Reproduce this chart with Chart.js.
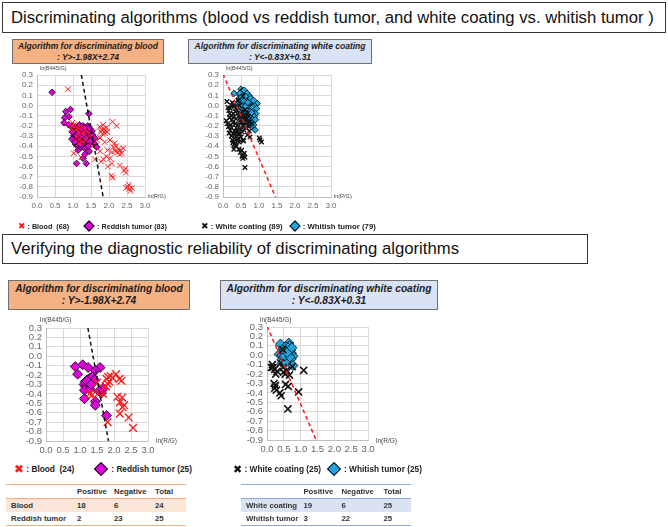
<!DOCTYPE html>
<html>
<head>
<meta charset="utf-8">
<script src="https://cdn.jsdelivr.net/npm/chart.js@4.4.1/dist/chart.umd.min.js"></script>
<style>
  body { margin: 0; width: 668px; height: 527px; position: relative; background: #fff; overflow: hidden;
         font-family: "Liberation Sans", Arial, sans-serif; color: #222; }
  .abs { position: absolute; white-space: nowrap; }
  .title { border: 1.5px solid #333; box-sizing: border-box; font-size: 16.7px; color: #111; padding-left: 8px; display: flex; align-items: center; }
  .algo { box-sizing: border-box; border: 1px solid #6f6f6f; font-weight: bold; font-style: italic; text-align: center; color: #1a1a1a; line-height: 1.2; display: flex; flex-direction: column; justify-content: center; }
  .orange { background: #f4b183; }
  .blue { background: #dae3f3; }
  .axt { color: #444; }
  .leg { font-weight: bold; color: #222; display: flex; align-items: center; }
  .xm { font-family: "DejaVu Sans", sans-serif; font-weight: bold; }
  .dia { display: inline-block; transform: rotate(45deg); border: 1px solid #000; box-sizing: border-box; }
  table { border-collapse: collapse; font-size: 7.8px; font-weight: bold; color: #333; }
  td { padding: 0 0 0 5px; height: 13px; }
  canvas { position: absolute; }
</style>
</head>
<body>

<div class="abs title" style="left:2px;top:2px;width:664px;height:31px;">Discriminating algorithms (blood vs reddish tumor, and white coating vs. whitish tumor )</div>

<div class="abs algo orange" style="left:12px;top:39px;width:152px;height:25px;font-size:8.5px;"><div>Algorithm for discriminating blood</div><div>: Y&gt;-1.98X+2.74</div></div>
<div class="abs algo blue" style="left:188px;top:39px;width:184px;height:25px;font-size:8.5px;"><div>Algorithm for discriminating white coating</div><div>: Y&lt;-0.83X+0.31</div></div>

<canvas id="c1"></canvas>
<canvas id="c2"></canvas>
<canvas id="c3"></canvas>
<canvas id="c4"></canvas>

<div class="abs axt" style="left:40px;top:65px;font-size:5.5px;">ln(B445/G)</div>
<div class="abs axt" style="left:148px;top:193px;font-size:5.5px;">ln(R/G)</div>
<div class="abs axt" style="left:226px;top:65px;font-size:5.5px;">ln(B445/G)</div>
<div class="abs axt" style="left:334px;top:193px;font-size:5.5px;">ln(R/G)</div>

<div class="abs leg" style="left:18px;top:220px;font-size:7.2px;height:12px;">
  <span class="xm" style="color:#ff1a1a;font-size:9px;">&#10006;</span>&nbsp;: Blood&nbsp; (68)
  <span class="dia" style="width:8px;height:8px;background:#e000e0;margin:0 4px 0 16px;"></span>: Reddish tumor (83)
</div>
<div class="abs leg" style="left:201px;top:220px;font-size:7.8px;height:12px;">
  <span class="xm" style="color:#111;font-size:9px;">&#10006;</span>&nbsp;: White coating (89)
  <span class="dia" style="width:8px;height:8px;background:#1fa8e0;margin:0 4px 0 8px;"></span>: Whitish tumor (79)
</div>

<div class="abs title" style="left:2px;top:234px;width:586px;height:30px;">Verifying the diagnostic reliability of discriminating algorithms</div>

<div class="abs algo orange" style="left:8px;top:280px;width:182px;height:30px;font-size:10.2px;"><div>Algorithm for discriminating blood</div><div>: Y&gt;-1.98X+2.74</div></div>
<div class="abs algo blue" style="left:220px;top:280px;width:218px;height:30px;font-size:10.2px;"><div>Algorithm for discriminating white coating</div><div>: Y&lt;-0.83X+0.31</div></div>

<div class="abs axt" style="left:40px;top:316px;font-size:6.5px;">ln(B445/G)</div>
<div class="abs axt" style="left:156px;top:437px;font-size:6.5px;">ln(R/G)</div>
<div class="abs axt" style="left:260px;top:316px;font-size:6.5px;">ln(B445/G)</div>
<div class="abs axt" style="left:376px;top:437px;font-size:6.5px;">ln(R/G)</div>

<div class="abs leg" style="left:14px;top:462px;font-size:8.3px;height:14px;">
  <span class="xm" style="color:#ff1a1a;font-size:12px;">&#10006;</span>&nbsp;: Blood&nbsp; (24)
  <span class="dia" style="width:10px;height:10px;background:#e000e0;margin:0 5px 0 22px;"></span>: Reddish tumor (25)
</div>
<div class="abs leg" style="left:233px;top:462px;font-size:8.3px;height:14px;">
  <span class="xm" style="color:#111;font-size:11px;">&#10006;</span>&nbsp;: White coating (25)
  <span class="dia" style="width:10px;height:10px;background:#1fa8e0;margin:0 5px 0 8px;"></span>: Whitish tumor (25)
</div>

<table class="abs" style="left:6px;top:484px;width:180px;border-top:1.5px solid #f4b183;border-bottom:1.5px solid #f4b183;">
  <tr><td style="width:61px"></td><td style="width:32px">Positive</td><td style="width:36px">Negative</td><td>Total</td></tr>
  <tr style="background:#fbe5d6;border-top:1.5px solid #f4b183;"><td>Blood</td><td>18</td><td>6</td><td>24</td></tr>
  <tr><td>Reddish tumor</td><td>2</td><td>23</td><td>25</td></tr>
</table>
<table class="abs" style="left:241px;top:484px;width:170px;border-top:1.5px solid #8faadc;border-bottom:1.5px solid #8faadc;">
  <tr><td style="width:50px"></td><td style="width:33px">Positive</td><td style="width:37px">Negative</td><td>Total</td></tr>
  <tr style="background:#dae3f3;border-top:1.5px solid #8faadc;"><td>White coating</td><td>19</td><td>6</td><td>25</td></tr>
  <tr><td>Whitish tumor</td><td>3</td><td>22</td><td>25</td></tr>
</table>

<script>
// axis ticks (both panels share the same axes)
const xTickValues = [0, 0.5, 1.0, 1.5, 2.0, 2.5, 3.0];
const yTickValues = [-0.9, -0.8, -0.7, -0.6, -0.5, -0.4, -0.3, -0.2, -0.1, 0.0, 0.1, 0.2, 0.3];

// boundary lines  Y = -1.98X + 2.74  and  Y = -0.83X + 0.31 (end points at the plot edge)
const bloodLine = [[1.232, 0.3], [1.838, -0.9]];
const whiteLine = [[0.0, 0.31], [1.458, -0.9]];

// --- training data: blood (68) / reddish tumor (83)
const bloodTrain = [
  [0.86,0.16],[0.98,-0.17],[1.03,-0.19],[0.96,-0.23],[1.08,-0.24],[1.13,-0.22],[1.18,-0.26],[1.23,-0.21],[1.28,-0.27],[1.33,-0.24],
  [1.12,-0.31],[1.20,-0.33],[1.26,-0.36],[1.35,-0.34],[1.40,-0.26],[1.17,-0.37],[1.02,-0.47],[1.23,-0.51],[1.46,-0.30],[1.54,-0.40],
  [1.74,-0.21],[1.79,-0.24],[1.84,-0.19],[1.88,-0.27],[1.93,-0.22],[1.86,-0.23],[1.82,-0.28],[1.90,-0.25],[1.77,-0.26],[1.95,-0.26],
  [2.10,-0.16],[2.21,-0.20],[1.66,-0.34],[1.75,-0.32],[2.03,-0.34],[2.16,-0.37],[1.88,-0.36],
  [1.96,-0.44],[2.12,-0.41],[2.26,-0.43],[2.35,-0.47],[2.17,-0.45],[2.29,-0.48],[2.40,-0.42],[2.20,-0.40],[2.31,-0.44],[2.24,-0.46],[2.08,-0.46],
  [1.75,-0.45],[1.61,-0.53],[1.85,-0.53],[2.03,-0.52],[1.92,-0.50],
  [1.97,-0.60],[2.08,-0.57],[2.30,-0.59],[2.45,-0.62],[2.47,-0.66],[2.42,-0.64],
  [2.07,-0.69],[2.10,-0.71],
  [2.48,-0.81],[2.55,-0.78],[2.60,-0.84],[2.57,-0.82],[2.52,-0.80],[2.63,-0.81],[1.78,-0.55]
];
const reddishTrain = [
  [0.42,0.13],[0.80,-0.06],[0.93,-0.04],[0.89,-0.11],[0.77,-0.12],[0.75,-0.17],[1.44,-0.08],[0.88,-0.19],[0.96,-0.21],[1.10,-0.57],
  [1.37,-0.57],[1.28,-0.52],[1.33,-0.48],[1.14,-0.44],[1.45,-0.45],[1.51,-0.36],[1.56,-0.33],[1.61,-0.38],[1.66,-0.41],[1.41,-0.20],
  [1.00,-0.20],[1.03,-0.23],[1.05,-0.26],[1.08,-0.22],[1.10,-0.25],[1.12,-0.28],[1.15,-0.21],[1.17,-0.24],[1.20,-0.27],[1.22,-0.23],
  [1.25,-0.26],[1.27,-0.29],[1.30,-0.24],[1.33,-0.27],[1.35,-0.30],[1.38,-0.25],[1.40,-0.28],[1.43,-0.31],[1.47,-0.27],[1.50,-0.30],
  [1.02,-0.30],[1.05,-0.33],[1.08,-0.29],[1.10,-0.35],[1.13,-0.32],[1.15,-0.36],[1.18,-0.31],[1.20,-0.34],[1.23,-0.37],[1.25,-0.32],
  [1.28,-0.35],[1.30,-0.38],[1.32,-0.33],[1.35,-0.36],[1.38,-0.39],[1.41,-0.34],[1.45,-0.37],[1.48,-0.35],
  [1.07,-0.38],[1.12,-0.40],[1.17,-0.39],[1.22,-0.41],[1.27,-0.40],[1.32,-0.42],[1.37,-0.41],[0.98,-0.26],[0.97,-0.33],[1.53,-0.25],
  [1.55,-0.29],[1.45,-0.22],[1.18,-0.19],[1.28,-0.20],[1.10,-0.30],[1.24,-0.30],[1.36,-0.32],[1.15,-0.27],[1.30,-0.28],[1.20,-0.38],
  [1.26,-0.23],[1.42,-0.40],[1.05,-0.36],[1.33,-0.22],[1.60,-0.32]
];

// --- training data: white coating (89) / whitish tumor (79)
const whiteTrain = [
  [0.11,0.04],[0.14,-0.02],[0.16,-0.05],[0.20,-0.03],[0.24,0.00],[0.29,-0.08],[0.22,-0.10],[0.18,-0.12],[0.25,-0.14],[0.30,-0.11],
  [0.34,-0.06],[0.38,-0.02],[0.42,0.05],[0.55,0.09],[0.46,0.00],[0.40,-0.08],[0.36,-0.13],[0.34,-0.18],[0.28,-0.17],[0.21,-0.19],
  [0.15,-0.21],[0.20,-0.24],[0.24,-0.22],[0.28,-0.28],[0.32,-0.25],[0.37,-0.22],[0.42,-0.19],[0.47,-0.15],[0.50,-0.11],[0.53,-0.06],
  [0.57,-0.10],[0.62,-0.13],[0.66,-0.13],[0.60,-0.17],[0.55,-0.20],[0.48,-0.23],[0.43,-0.28],[0.38,-0.30],[0.33,-0.32],[0.26,-0.34],
  [0.29,-0.36],[0.31,-0.38],[0.34,-0.39],[0.27,-0.37],[0.41,-0.33],[0.45,-0.36],[0.50,-0.31],[0.57,-0.35],[0.53,-0.26],[0.64,-0.22],
  [0.70,-0.20],[0.75,-0.16],[0.80,-0.18],[0.73,-0.25],[0.75,-0.31],[0.68,-0.29],[1.03,-0.34],[1.07,-0.36],[1.01,-0.32],[0.44,-0.43],
  [0.48,-0.46],[0.52,-0.44],[0.57,-0.49],[0.55,-0.52],[0.59,-0.47],[0.53,-0.50],[0.61,-0.51],[0.61,-0.61],[0.17,-0.27],[0.12,-0.18],
  [0.45,-0.10],[0.39,-0.05],[0.31,-0.01],[0.26,0.03],[0.19,-0.08],[0.52,-0.17],[0.58,-0.24],[0.47,-0.28],[0.40,-0.24],[0.62,-0.04],
  [0.67,-0.08],[0.35,-0.27],[0.23,-0.30],[0.30,-0.43],[0.37,-0.40],[0.40,-0.35],[0.56,-0.34],[0.71,-0.11],[0.09,-0.15]
];
const whitishTrain = [
  [0.31,0.12],[0.50,0.16],[0.53,0.14],[0.57,0.12],[0.48,0.10],[0.55,0.09],[0.61,0.11],[0.66,0.09],[0.60,0.07],[0.52,0.06],
  [0.45,0.07],[0.70,0.06],[0.73,0.05],[0.64,0.04],[0.58,0.03],[0.50,0.03],[0.43,0.04],[0.76,0.02],[0.80,0.03],[0.88,0.02],
  [0.95,0.02],[0.68,0.01],[0.61,0.02],[0.55,0.00],[0.47,0.00],[0.40,0.01],[0.72,-0.01],[0.52,-0.01],[0.64,-0.02],[0.71,-0.03],
  [0.78,-0.02],[0.84,-0.05],[0.58,-0.04],[0.45,-0.04],[0.66,-0.05],[0.75,-0.06],[0.91,-0.08],[0.48,-0.09],[0.56,-0.07],[0.62,-0.08],
  [0.69,-0.09],[0.80,-0.09],[0.87,-0.11],[0.75,-0.12],[0.60,-0.12],[0.52,-0.12],[0.66,-0.16],[0.72,-0.15],[0.82,-0.14],[0.80,-0.21],
  [0.89,-0.24],[0.85,-0.19],[0.70,-0.19],[0.58,-0.17],[0.76,-0.18],[0.63,-0.21],[0.54,0.13],[0.59,0.15],[0.47,0.12],[0.67,0.12],
  [0.62,-0.01],[0.42,-0.02],[0.86,0.00],[0.74,0.09],[0.69,0.03],[0.56,0.05],[0.51,0.08],[0.83,-0.02],[0.93,-0.03],[0.79,-0.07],
  [0.71,-0.11],[0.64,-0.11],[0.55,-0.10],[0.49,-0.05],[0.77,0.07],[0.62,0.09],[0.90,-0.14],[0.68,-0.13],[0.85,0.05]
];

// --- validation data
const bloodTest = [
  [1.36,-0.41],[1.50,-0.28],[1.55,-0.39],[1.68,-0.40],[1.76,-0.32],[1.78,-0.24],[1.83,-0.22],[1.86,-0.27],[1.81,-0.29],[1.96,-0.23],
  [2.06,-0.19],[2.16,-0.24],[2.22,-0.26],[2.10,-0.43],[2.24,-0.44],[2.17,-0.49],[2.30,-0.52],[2.25,-0.54],[2.17,-0.61],[2.43,-0.65],
  [2.56,-0.76],[1.81,-0.70],[1.90,-0.21],[1.28,-0.40]
];
const reddishTest = [
  [0.86,-0.11],[0.93,-0.19],[1.08,-0.09],[1.24,-0.12],[1.59,-0.12],[1.45,-0.15],[1.16,-0.27],[1.22,-0.25],[1.30,-0.23],[1.36,-0.22],
  [1.42,-0.25],[1.12,-0.30],[1.18,-0.32],[1.13,-0.36],[1.26,-0.28],[1.30,-0.35],[1.20,-0.26],[1.63,-0.39],[1.68,-0.34],[1.56,-0.37],
  [1.13,-0.45],[1.45,-0.48],[1.45,-0.52],[1.78,-0.63],[1.33,-0.30]
];
const whiteTest = [
  [0.16,-0.10],[0.18,-0.13],[0.13,-0.13],[0.23,-0.15],[0.26,-0.20],[0.30,-0.17],[0.48,-0.13],[0.49,-0.18],[0.54,-0.20],[0.58,-0.16],
  [0.67,-0.21],[0.75,-0.12],[1.09,-0.16],[0.21,-0.30],[0.25,-0.32],[0.23,-0.35],[0.28,-0.37],[0.38,-0.40],[0.42,-0.43],[0.55,-0.31],
  [0.63,-0.33],[0.94,-0.39],[0.62,-0.57],[0.47,0.06],[0.40,-0.08]
];
const whitishTest = [
  [0.40,0.12],[0.65,0.13],[0.67,0.10],[0.55,0.09],[0.46,0.06],[0.58,0.06],[0.70,0.05],[0.36,0.01],[0.44,0.00],[0.57,0.01],
  [0.73,0.02],[0.77,-0.01],[0.65,0.00],[0.49,-0.03],[0.62,-0.05],[0.72,-0.04],[0.50,0.04],[0.45,-0.08],[0.77,-0.11],[0.56,-0.08],
  [0.62,0.08],[0.52,-0.01],[0.68,-0.02],[0.60,0.03],[0.74,0.08]
];

const RED = '#ff1a1a', MAGENTA = '#e000e0', CYAN = '#1fa8e0';

function pts(a) { return a.map(p => ({ x: p[0], y: p[1] })); }
function fmt(v) { return Math.abs(v) < 1e-9 ? '0.0' : v.toFixed(1); }

function lineSet(d, color) {
  return { data: pts(d), showLine: true, borderColor: color, borderWidth: 1.5, borderDash: [4, 3], pointRadius: 0, fill: false };
}
function crossSet(d, color, r, w) {
  return { data: pts(d), pointStyle: 'crossRot', pointRadius: r, borderColor: color, backgroundColor: color, borderWidth: w };
}
function diamondSet(d, color, r) {
  return { data: pts(d), pointStyle: 'rectRot', pointRadius: r, backgroundColor: color, borderColor: '#000', borderWidth: 0.8 };
}

// plot = chart area wanted on the page
function scatter(id, plot, big, datasets) {
  const c = document.getElementById(id);
  const padL = 30, padT = 10, padR = 14, xH = big ? 18 : 16;
  c.width = plot.r - plot.l + padL + padR;
  c.height = plot.b - plot.t + padT + xH;
  c.style.left = (plot.l - padL) + 'px';
  c.style.top = (plot.t - padT) + 'px';
  const tickFont = { size: big ? 9.5 : 8, family: '"Liberation Sans", Arial, sans-serif' };
  new Chart(c, {
    type: 'scatter',
    data: { datasets: datasets },
    options: {
      responsive: false, animation: false, devicePixelRatio: 1,
      layout: { padding: { left: 0, top: padT, right: padR, bottom: 0 } },
      plugins: { legend: { display: false }, tooltip: { enabled: false } },
      scales: {
        x: {
          type: 'linear', min: 0, max: 3,
          afterBuildTicks: s => { s.ticks = xTickValues.map(v => ({ value: v })); },
          afterFit: s => { s.height = xH; },
          grid: { color: '#d9d9d9', drawTicks: false },
          border: { color: '#bfbfbf' },
          ticks: { padding: 4, color: '#666', font: tickFont, maxRotation: 0, autoSkip: false, callback: fmt }
        },
        y: {
          type: 'linear', min: -0.9, max: 0.3,
          afterBuildTicks: s => { s.ticks = yTickValues.map(v => ({ value: v })); },
          afterFit: s => { s.width = padL; },
          grid: { color: '#d9d9d9', drawTicks: false },
          border: { color: '#bfbfbf' },
          ticks: { padding: 4, color: '#666', font: tickFont, autoSkip: false, callback: fmt }
        }
      }
    }
  });
}

scatter('c1', { l: 37, r: 145, t: 75, b: 197 }, false, [
  lineSet(bloodLine, '#111'),
  crossSet(bloodTrain, RED, 4, 1),
  diamondSet(reddishTrain, MAGENTA, 3.3)
]);
scatter('c2', { l: 223, r: 331, t: 75, b: 197 }, false, [
  lineSet(whiteLine, RED),
  crossSet(whiteTrain, '#111', 3.2, 1.4),
  diamondSet(whitishTrain, CYAN, 3.3)
]);
scatter('c3', { l: 46, r: 148, t: 328, b: 441 }, true, [
  lineSet(bloodLine, '#111'),
  crossSet(bloodTest, RED, 5.5, 1.3),
  diamondSet(reddishTest, MAGENTA, 5)
]);
scatter('c4', { l: 267, r: 368, t: 327, b: 440 }, true, [
  lineSet(whiteLine, RED),
  crossSet(whiteTest, '#111', 5, 1.6),
  diamondSet(whitishTest, CYAN, 5)
]);
</script>
</body>
</html>
